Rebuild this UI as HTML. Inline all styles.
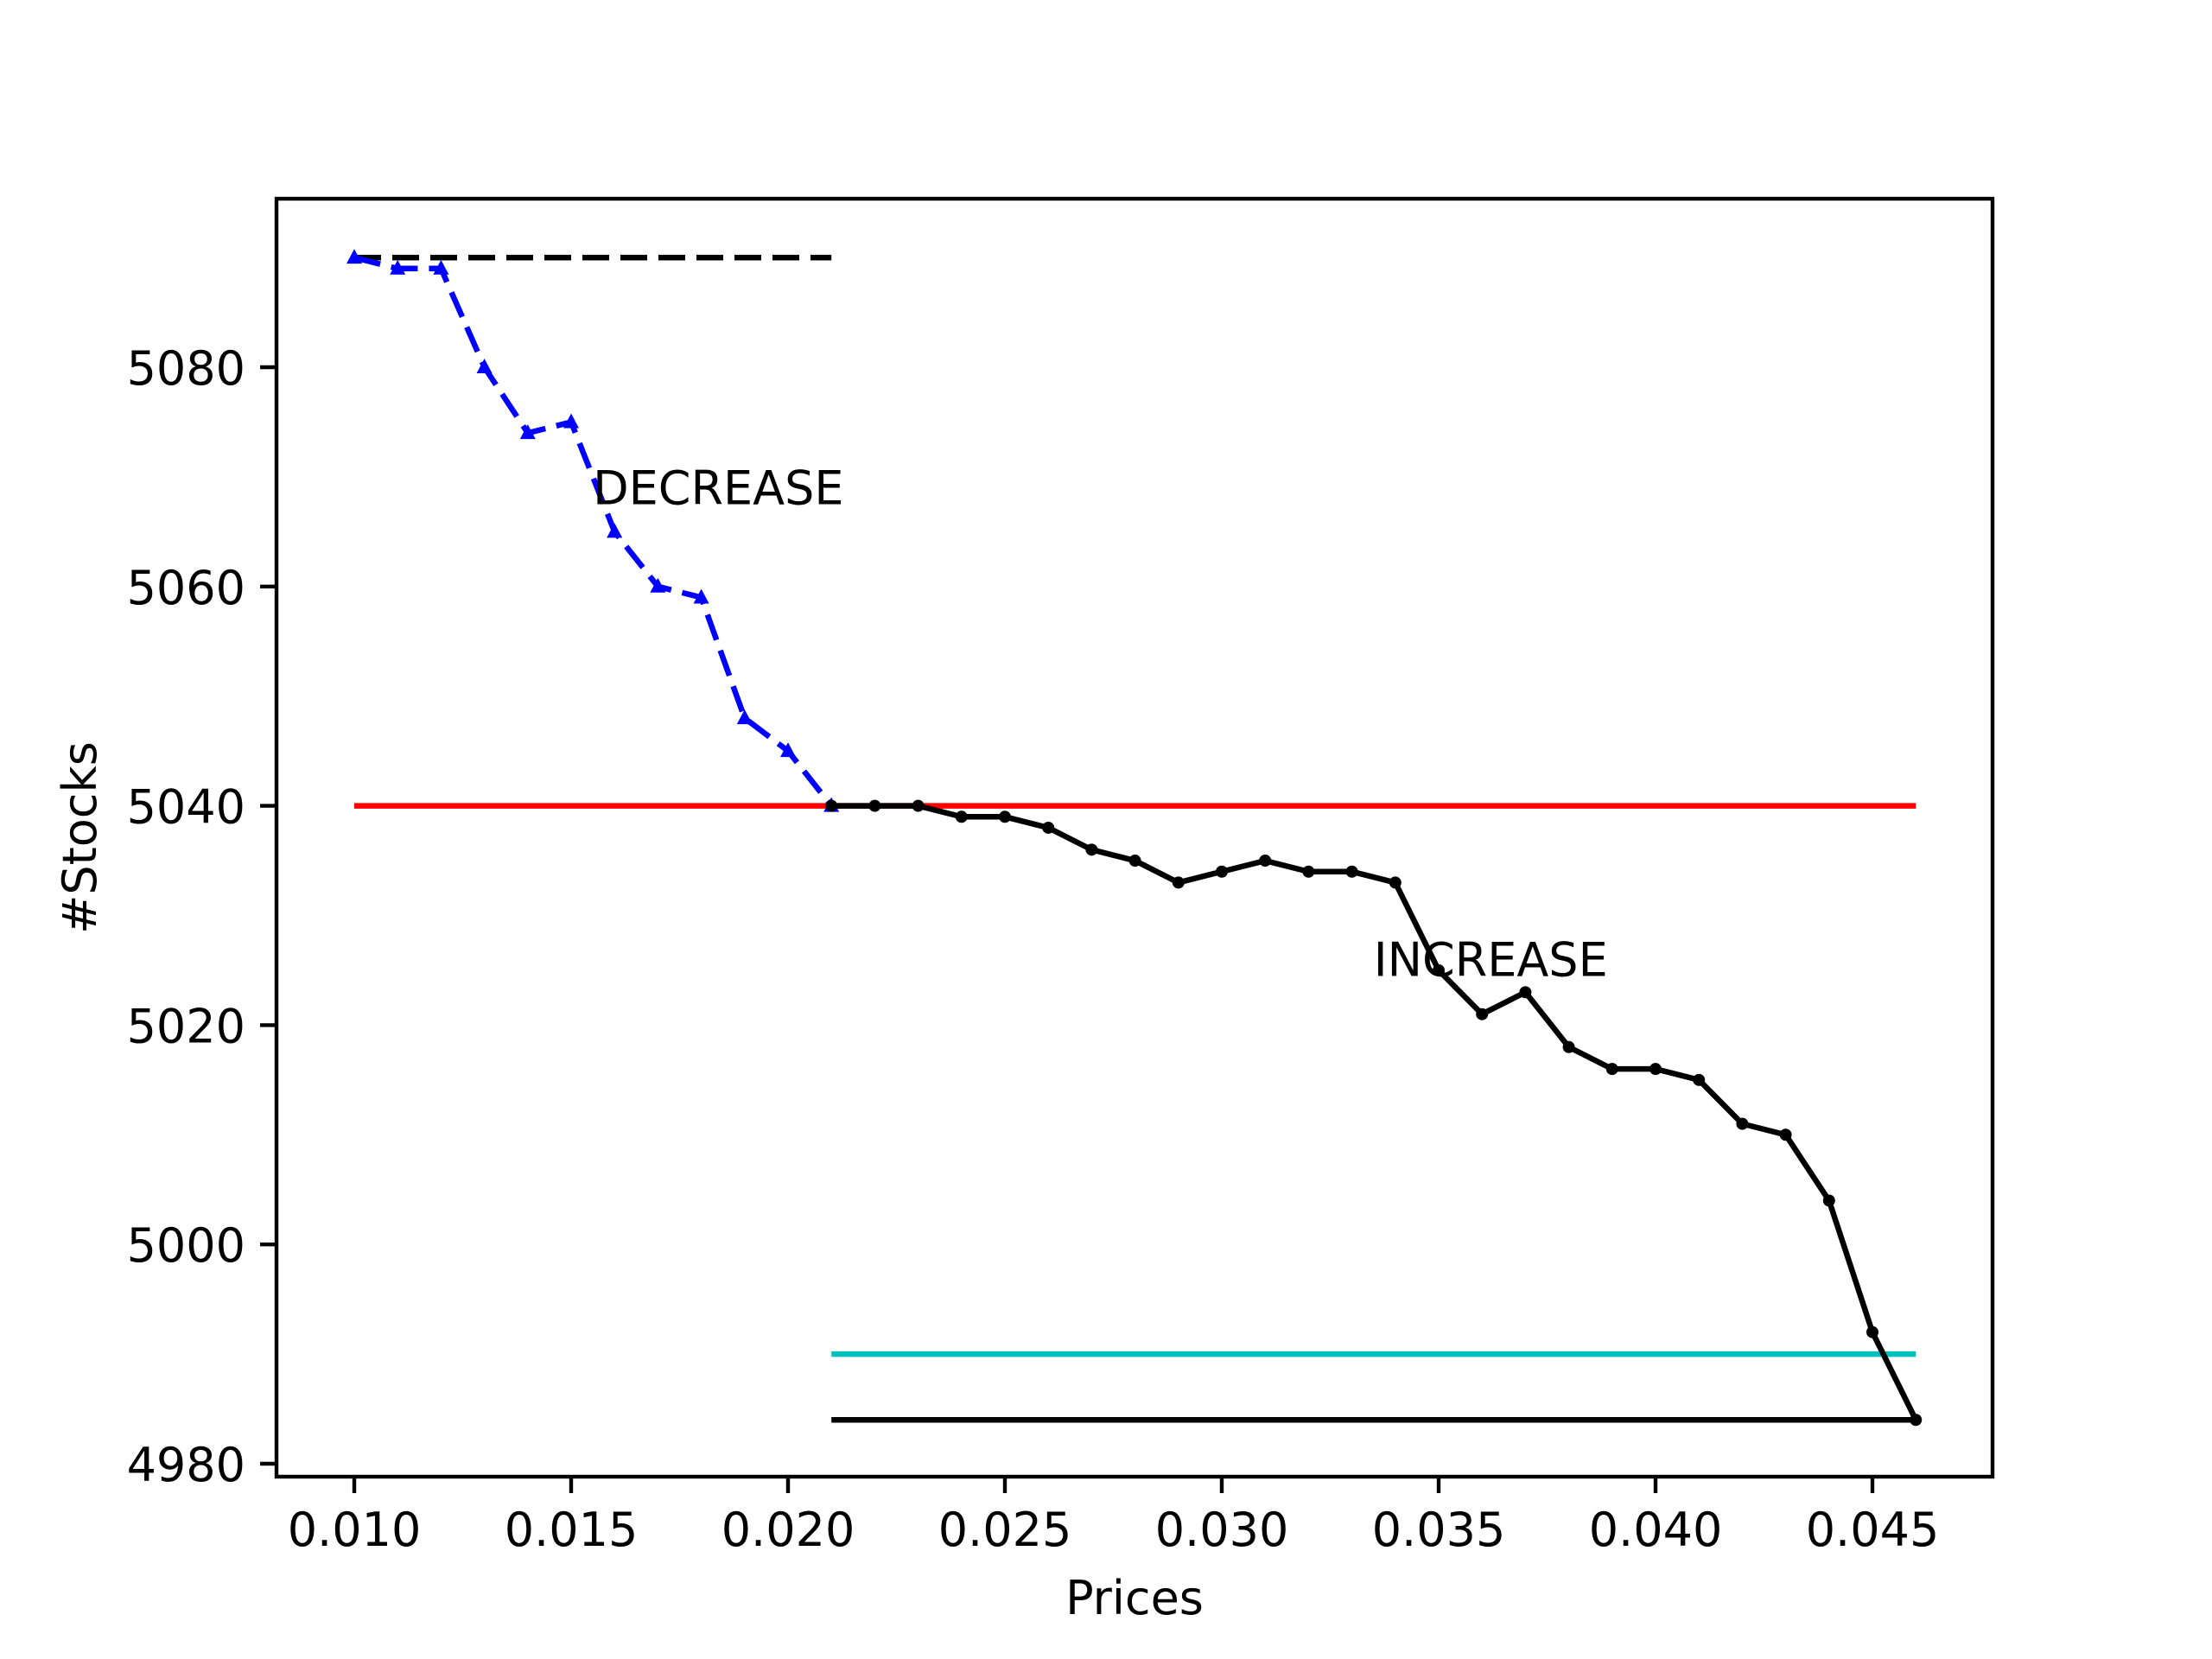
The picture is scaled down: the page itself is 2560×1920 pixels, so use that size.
<!DOCTYPE html>
<html><head><meta charset="utf-8"><style>html,body{margin:0;padding:0;background:#fff}svg{display:block}text{font-family:"DejaVu Sans","Liberation Sans",sans-serif}</style></head>
<body>
<svg id="chart" width="2560" height="1920" viewBox="0 0 2560 1920" xmlns="http://www.w3.org/2000/svg">
<rect width="2560" height="1920" fill="#fff"/>
<g id="plot"></g>
</svg>
<script>
const decPrices=[0.010,0.011,0.012,0.013,0.014,0.015,0.016,0.017,0.018,0.019,0.020,0.021];
const decStocks=[5090,5089,5089,5080,5074,5075,5065,5060,5059,5048,5045,5040];
const incPrices=[0.021,0.022,0.023,0.024,0.025,0.026,0.027,0.028,0.029,0.030,0.031,0.032,0.033,0.034,0.035,0.036,0.037,0.038,0.039,0.040,0.041,0.042,0.043,0.044,0.045,0.046];
const incStocks=[5040,5040,5040,5039,5039,5038,5036,5035,5033,5034,5035,5034,5034,5033,5025,5021,5023,5018,5016,5016,5015,5011,5010,5004,4992,4984];
const xTicks=[0.010,0.015,0.020,0.025,0.030,0.035,0.040,0.045];
const xTickLabels=["0.010","0.015","0.020","0.025","0.030","0.035","0.040","0.045"];
const yTicks=[4980,5000,5020,5040,5060,5080];
const yTickLabels=["4980","5000","5020","5040","5060","5080"];
const hLines=[
 {name:"start-level-line",y:5090,x1:0.010,x2:0.021,color:"#000",dash:"31 13"},
 {name:"mid-level-line",y:5040,x1:0.010,x2:0.046,color:"#ff0000",dash:""},
 {name:"cyan-level-line",y:4990,x1:0.021,x2:0.046,color:"#00bfbf",dash:""},
 {name:"min-level-line",y:4984,x1:0.021,x2:0.046,color:"#000",dash:""}
];
const annotations=[{t:"DECREASE",x:0.0155,y:5067.5},{t:"INCREASE",x:0.0335,y:5024.5}];

const L=320,R=2306,T=230,B=1709;
const sx=v=>410+(v-0.010)*50200;
const sy=v=>1694-(v-4980)*12.69;
const NS="http://www.w3.org/2000/svg";
const g=document.getElementById('plot');
function mk(tag,attrs,parent){const e=document.createElementNS(NS,tag);for(const k in attrs)e.setAttribute(k,attrs[k]);(parent||g).appendChild(e);return e;}

hLines.forEach(h=>{
 const e=mk('line',{x1:sx(h.x1),x2:sx(h.x2),y1:sy(h.y),y2:sy(h.y),stroke:h.color,'stroke-width':6.5,'stroke-dasharray':h.dash});
 
 
});
const dp=mk('polyline',{points:decPrices.map((p,i)=>sx(p)+','+sy(decStocks[i])).join(' '),fill:'none',stroke:'#0000ff','stroke-width':6.5,'stroke-dasharray':'31 13'});


decPrices.forEach((p,i)=>{const x=sx(p),y=sy(decStocks[i]);
 const m=mk('polygon',{points:`${x},${y-10} ${x-9},${y+7} ${x+9},${y+7}`,fill:'#0000ff'});
 
 
});
const ip=mk('polyline',{points:incPrices.map((p,i)=>sx(p)+','+sy(incStocks[i])).join(' '),fill:'none',stroke:'#000','stroke-width':6.5});


incPrices.forEach((p,i)=>{
 const m=mk('circle',{cx:sx(p),cy:sy(incStocks[i]),r:7,fill:'#000'});
 
 
});
annotations.forEach(a=>{const e=mk('text',{x:sx(a.x),y:sy(a.y),'font-size':54,fill:'#000'});e.textContent=a.t;
 
 
});
const fr=mk('rect',{x:L,y:T,width:R-L,height:B-T,fill:'none',stroke:'#000','stroke-width':4.4});


xTicks.forEach((v,i)=>{const x=sx(v);
 const t=mk('line',{x1:x,x2:x,y1:B,y2:B+19,stroke:'#000','stroke-width':4.4});
 
 
 const l=mk('text',{x:x,y:B+80,'font-size':54,'text-anchor':'middle'});l.textContent=xTickLabels[i];
 
 
});
yTicks.forEach((v,i)=>{const y=sy(v);
 const t=mk('line',{x1:L-19,x2:L,y1:y,y2:y,stroke:'#000','stroke-width':4.4});
 
 
 const l=mk('text',{x:L-36,y:y+20,'font-size':54,'text-anchor':'end'});l.textContent=yTickLabels[i];
 
 
});
const xt=mk('text',{x:(L+R)/2,y:1868,'font-size':54,'text-anchor':'middle'});xt.textContent='Prices';


const yt=mk('text',{x:0,y:0,'font-size':54,'text-anchor':'middle',transform:`translate(111,${(T+B)/2}) rotate(-90)`});yt.textContent='#Stocks';


</script>
</body></html>
